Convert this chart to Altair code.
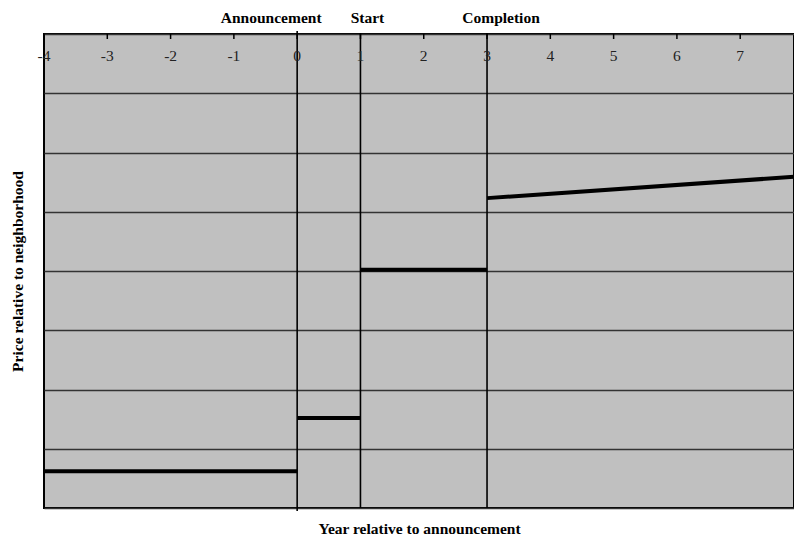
import altair as alt
import pandas as pd

# ---- data ----
tick_years = [-4, -3, -2, -1, 0, 1, 2, 3, 4, 5, 6, 7]
event_names = ["Announcement", "Start", "Completion"]
event_years = [0, 1, 3]

seg_names = ["before", "announced", "construction", "completed"]
seg_x = [[-4, 0], [0, 1], [1, 3], [3, 7.85]]
seg_y = [[0.62, 0.62], [1.52, 1.52], [4.02, 4.02], [5.23, 5.59]]

grid_values = [0, 1, 2, 3, 4, 5, 6, 7, 8]
x_domain = [-4, 7.85]
y_domain = [0, 8]

SERIF = "Liberation Serif"
FS = 15.5

rows = []
for n, xs, ys in zip(seg_names, seg_x, seg_y):
    for xv, yv in zip(xs, ys):
        rows.append({"seg": n, "year": xv, "price": yv})
seg_df = pd.DataFrame(rows)
tick_df = pd.DataFrame({"year": tick_years, "label": [str(t) for t in tick_years]})
ev_df = pd.DataFrame({"name": event_names, "year": event_years})

xscale = alt.Scale(domain=x_domain, nice=False, zero=False)
yscale = alt.Scale(domain=y_domain, nice=False, zero=False)

x_axis = alt.Axis(orient="bottom", title="Year relative to announcement",
                  labels=False, ticks=False, domain=False, grid=False,
                  titleFont=SERIF, titleFontSize=FS, titleFontWeight="bold",
                  titleColor="black", titlePadding=13)
x_enc = alt.X("year:Q", scale=xscale, axis=x_axis)
y_enc = alt.Y("price:Q", scale=yscale,
              axis=alt.Axis(orient="left", title="Price relative to neighborhood",
                            labels=False, ticks=False, domain=False, grid=True,
                            values=grid_values, gridColor="#333333", gridWidth=1.5,
                            gridOpacity=1,
                            titleFont=SERIF, titleFontSize=FS, titleFontWeight="bold",
                            titleColor="black", titlePadding=19))

lines = alt.Chart(seg_df).mark_line(color="black", strokeWidth=4, clip=True).encode(
    x=x_enc, y=y_enc, detail="seg:N"
)

ev_main = alt.Chart(ev_df).transform_filter(alt.datum.year > 0).mark_rule(
    color="black", strokeWidth=1.6, clip=False
).encode(x=x_enc, y=alt.value(-1), y2=alt.value(474))

ev_ann = alt.Chart(ev_df).transform_filter(alt.datum.year == 0).mark_rule(
    color="black", strokeWidth=1.6, clip=False
).encode(x=x_enc, y=alt.value(-3), y2=alt.value(477))

ticks = alt.Chart(tick_df).mark_rule(color="black", strokeWidth=1.5).encode(
    x=x_enc, y=alt.value(0), y2=alt.value(5)
)

tick_labels = alt.Chart(tick_df).mark_text(
    font=SERIF, fontSize=FS, color="#222", baseline="middle", align="center"
).encode(x=x_enc, y=alt.value(22), text="label:N")

def ev_label(name, dx):
    return alt.Chart(ev_df).transform_filter(alt.datum.name == name).mark_text(
        font=SERIF, fontSize=FS, fontWeight="bold", color="black",
        baseline="middle", align="center", dx=dx
    ).encode(x=x_enc, y=alt.value(-16), text="name:N")

chart = alt.layer(
    lines, ev_main, ev_ann, ticks, tick_labels,
    ev_label("Announcement", -26), ev_label("Start", 7), ev_label("Completion", 14)
).properties(
    width=750, height=474,
    autosize=alt.AutoSizeParams(type="none"),
    padding={"left": 44, "top": 34, "right": 0, "bottom": 32},
    background="white",
).configure_view(
    fill="#c0c0c0", stroke="black", strokeWidth=2
)

chart.save("out.html", embed_options={"renderer": "svg", "actions": False})
